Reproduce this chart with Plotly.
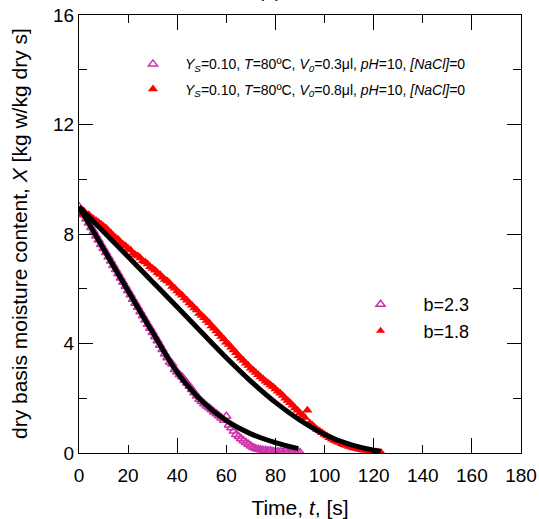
import plotly.graph_objects as go

# measured drying curves (time in s, moisture content in kg w / kg dry s)
t_small = list(range(0, 91))
x_small = [9.00, 8.86, 8.70, 8.55, 8.40, 8.24, 8.09, 7.93, 7.78, 7.62,
           7.47, 7.32, 7.16, 7.01, 6.85, 6.70, 6.55, 6.39, 6.24, 6.08,
           5.93, 5.78, 5.62, 5.47, 5.32, 5.16, 5.01, 4.86, 4.70, 4.56,
           4.40, 4.25, 4.10, 3.94, 3.78, 3.62, 3.48, 3.32, 3.25, 3.05,
           2.96, 2.86, 2.78, 2.66, 2.55, 2.44, 2.32, 2.20, 2.08, 1.96,
           1.88, 1.80, 1.72, 1.65, 1.58, 1.50, 1.43, 1.36, 1.28, 1.20,
           1.34, 1.02, 0.92, 0.80, 0.68, 0.60, 0.52, 0.45, 0.38, 0.32,
           0.26, 0.20, 0.16, 0.14, 0.12, 0.10, 0.10, 0.08, 0.08, 0.06,
           0.06, 0.05, 0.05, 0.04, 0.05, 0.04, 0.03, 0.04, 0.03, 0.03,
           0.02]

t_large = list(range(0, 124))
x_large = [8.80, 8.72, 8.84, 8.66, 8.70, 8.60, 8.55, 8.48, 8.42, 8.36,
           8.28, 8.22, 8.12, 8.04, 7.94, 7.86, 7.80, 7.70, 7.62, 7.56,
           7.47, 7.42, 7.30, 7.24, 7.20, 7.12, 7.02, 6.98, 6.90, 6.80,
           6.74, 6.68, 6.58, 6.52, 6.42, 6.34, 6.28, 6.20, 6.08, 6.02,
           5.92, 5.84, 5.76, 5.66, 5.58, 5.48, 5.40, 5.30, 5.22, 5.10,
           5.02, 4.94, 4.84, 4.76, 4.64, 4.56, 4.46, 4.36, 4.26, 4.16,
           4.05, 3.96, 3.86, 3.76, 3.66, 3.55, 3.46, 3.38, 3.28, 3.20,
           3.10, 3.02, 2.94, 2.86, 2.78, 2.70, 2.62, 2.56, 2.48, 2.42,
           2.34, 2.26, 2.18, 2.10, 2.00, 1.92, 1.84, 1.74, 1.64, 1.56,
           1.46, 1.38, 1.30, 1.56, 1.10, 1.02, 0.94, 0.86, 0.80, 0.74,
           0.68, 0.62, 0.56, 0.50, 0.46, 0.42, 0.38, 0.34, 0.30, 0.27,
           0.24, 0.21, 0.18, 0.16, 0.14, 0.12, 0.10, 0.09, 0.07, 0.06,
           0.05, 0.04, 0.03, 0.02]

# model fits
fit_small_t = [0, 10, 20, 30, 40, 50, 60, 70, 80, 89.3]
fit_small_x = [9.0, 7.45, 5.92, 4.40, 2.95, 1.90, 1.18, 0.70, 0.38, 0.16]
fit_large_t = [0, 10, 20, 30, 40, 50, 60, 70, 80, 90, 100, 110, 120, 122.9]
fit_large_x = [9.0, 8.08, 7.17, 6.25, 5.33, 4.40, 3.48, 2.62, 1.85, 1.20,
               0.68, 0.32, 0.10, 0.06]

label_small = "<i>Y<sub>S</sub></i>=0.10, <i>T</i>=80ºC, <i>V<sub>0</sub></i>=0.3μl, <i>pH</i>=10, <i>[NaCl]</i>=0"
label_large = "<i>Y<sub>S</sub></i>=0.10, <i>T</i>=80ºC, <i>V<sub>0</sub></i>=0.8μl, <i>pH</i>=10, <i>[NaCl]</i>=0"
b_labels = ["b=2.3", "b=1.8"]

MAG = "#cc33aa"
RED = "#ff0000"
FONT = "Liberation Sans, Arial, sans-serif"

mag_marker = dict(symbol="triangle-up-open", size=8, color=MAG, line=dict(width=1.5, color=MAG))
red_marker = dict(symbol="triangle-up", size=9, color=RED)

fig = go.Figure()

fig.add_trace(go.Scatter(x=t_small, y=x_small, mode="markers", name=label_small,
                         marker=mag_marker, legend="legend", legendgroup="a"))
fig.add_trace(go.Scatter(x=t_large, y=x_large, mode="markers", name=label_large,
                         marker=red_marker, legend="legend", legendgroup="b"))

# fits on the overlay axis (same range)
fig.add_trace(go.Scatter(x=fit_small_t, y=fit_small_x, mode="lines", xaxis="x2",
                         line=dict(color="black", width=5, shape="spline"),
                         showlegend=False))
fig.add_trace(go.Scatter(x=fit_large_t, y=fit_large_x, mode="lines", xaxis="x2",
                         line=dict(color="black", width=5, shape="spline"),
                         showlegend=False))

# legend entries for the fit exponents
fig.add_trace(go.Scatter(x=[None], y=[None], mode="markers", name=b_labels[0],
                         marker=mag_marker, legend="legend2"))
fig.add_trace(go.Scatter(x=[None], y=[None], mode="markers", name=b_labels[1],
                         marker=dict(red_marker, size=8), legend="legend2"))

fig.update_layout(
    width=539, height=519,
    margin=dict(l=79, r=18, t=15, b=66),
    plot_bgcolor="white", paper_bgcolor="white",
    font=dict(family=FONT, color="black", size=19),
    xaxis=dict(range=[0, 180], dtick=20, ticks="inside", ticklen=8, tickcolor="black",
               showline=True, linecolor="black", linewidth=1, mirror="ticks",
               showgrid=False, zeroline=False, automargin=False, ticklabelstandoff=5,
               ticklabeloverflow="allow",
               title=dict(text="Time, <i>t</i>, [s]", font=dict(size=21))),
    xaxis2=dict(range=[0, 180], dtick=40, ticks="inside", ticklen=15, tickcolor="black",
                overlaying="x", anchor="y", showticklabels=False, mirror="ticks",
                showline=False, showgrid=False, zeroline=False, automargin=False),
    yaxis=dict(range=[0, 16], dtick=4, ticks="inside", ticklen=14, tickcolor="black",
               minor=dict(dtick=2, ticks="inside", ticklen=8, tickcolor="black"),
               showline=True, linecolor="black", linewidth=1, mirror="ticks",
               showgrid=False, zeroline=False, automargin=False,
               ticklabeloverflow="allow"),
    legend=dict(x=0.095, y=0.924, xanchor="left", yanchor="top", tracegroupgap=4,
                bgcolor="rgba(0,0,0,0)", font=dict(size=14), itemwidth=54),
    legend2=dict(x=0.585, y=0.381, xanchor="left", yanchor="top",
                 bgcolor="rgba(0,0,0,0)", font=dict(size=18), itemwidth=76),
    showlegend=True,
    annotations=[
        dict(text="dry basis moisture content, <i>X</i> [kg w/kg dry s]",
             xref="paper", yref="paper", x=-0.1357, y=0.5, textangle=-90,
             xanchor="center", yanchor="middle", showarrow=False, font=dict(size=21)),
        # panel label sits mostly above the top edge, only its bottom shows
        dict(text="(a)", xref="paper", yref="paper", x=0.432, y=1.027,
             xanchor="center", yanchor="bottom", showarrow=False, font=dict(size=19)),
    ],
)

# drop the default page margin so the figure fills the window; no modebar
fig.write_html("out.html", config={"displayModeBar": False},
               post_script="document.body.style.margin = '0';")
